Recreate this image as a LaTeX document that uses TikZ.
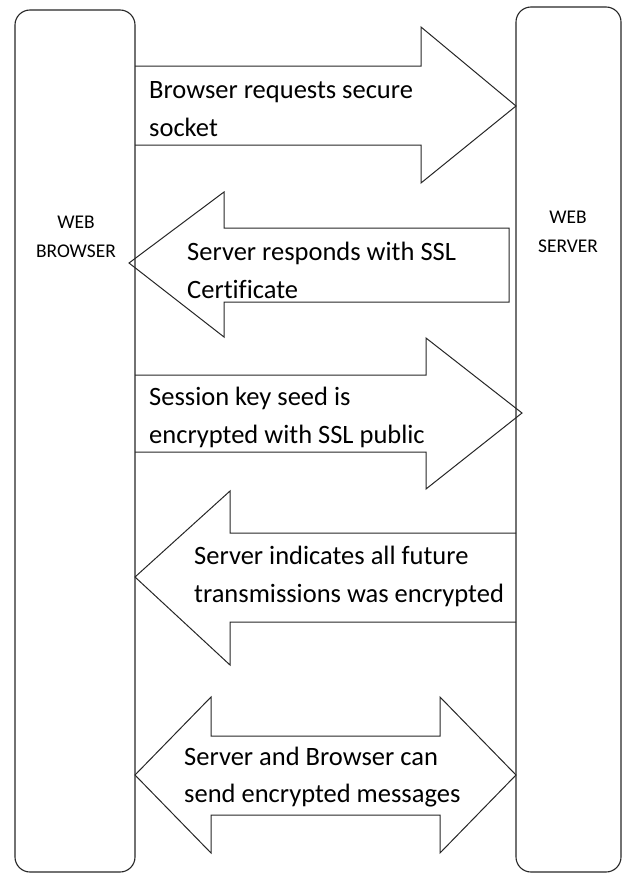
\documentclass[tikz,border=0pt]{standalone}
\usepackage{fontspec}
\setmainfont{Carlito}[Ligatures=NoCommon]
\begin{document}
\begin{tikzpicture}[x=1bp,y=-1bp,
  lifeline/.style={draw=black!85,line width=1.1bp,rounded corners=15bp},
  bigarrow/.style={draw=black!85,line width=1bp,line join=miter},
  msg/.style={anchor=west,align=left,inner sep=0pt,font=\fontsize{26.6}{38}\selectfont},
  party/.style={align=center,inner sep=0pt,font=\fontsize{19.5}{28.5}\selectfont}]
\useasboundingbox (0,0) rectangle (624,874);

% the two parties
\draw[lifeline] (15,10) rectangle (135,872);
\draw[lifeline] (516,7) rectangle (621,872);
\node[party] (browser) at (76,237) {WEB\\BROWSER};
\node[party] (server) at (568,232) {WEB\\SERVER};

% 1: browser -> server
\draw[bigarrow] (135,66) -- (421,66) -- (421,27) -- (516,106) -- (421,183) -- (421,145) -- (135,145);
\node[msg] (m1) at (149,109) {Browser requests secure\\socket};

% 2: server -> browser
\draw[bigarrow] (509,228) -- (224,228) -- (224,192) -- (129,263) -- (224,337) -- (224,302) -- (509,302) -- cycle;
\node[msg] (m2) at (187,270) {Server responds with SSL\\Certificate};

% 3: browser -> server
\draw[bigarrow] (135,375) -- (426,375) -- (426,338) -- (522,413) -- (426,489) -- (426,452) -- (135,452);
\node[msg] (m3) at (149,417) {Session key seed is\\encrypted with SSL public};

% 4: server -> browser
\draw[bigarrow] (516,533) -- (230,533) -- (230,491) -- (135,577) -- (230,665) -- (230,622) -- (516,622);
\node[msg] (m4) at (194,576) {Server indicates all future\\transmissions was encrypted};

% 5: both directions
\draw[bigarrow] (135,775) -- (211,697) -- (211,736) -- (440,736) -- (440,697) -- (516,775)
  -- (440,853) -- (440,815) -- (211,815) -- (211,853) -- cycle;
\node[msg] (m5) at (184,777) {Server and Browser can\\send encrypted messages};
\end{tikzpicture}
\end{document}
